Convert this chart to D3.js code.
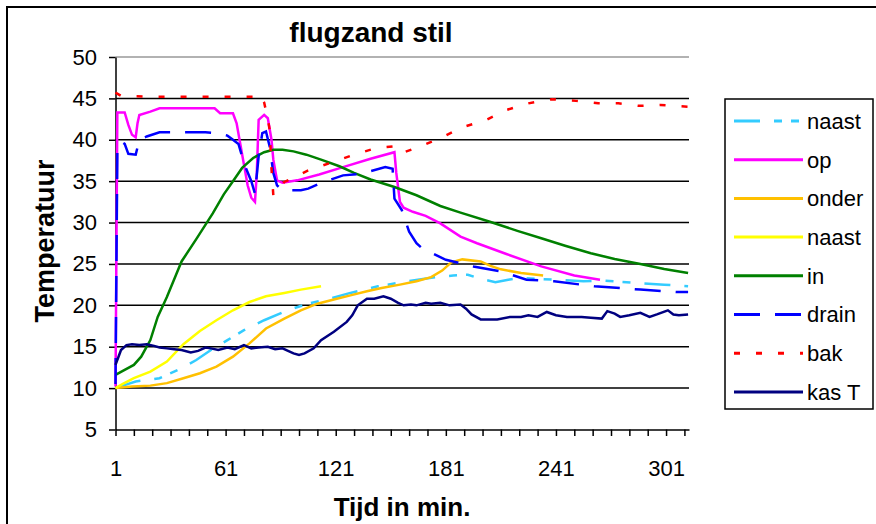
<!DOCTYPE html>
<html>
<head>
<meta charset="utf-8">
<script src="https://cdn.jsdelivr.net/npm/d3@7"></script>
<style>
	body { margin: 0; background: #fff; }
	text { font-family: "Liberation Sans", Arial, sans-serif; }
</style>
</head>
<body>
<div id="chart"></div>
<script>
// readings: [minute, temperature]
const naastCyan = [[1,10.0],[5,10.3],[12,10.8],[25,11.2],[37,12.4],[45,13.4],[53,14.6],[62,15.8],[71,17.0],[82,18.2],[96,19.5],[106,20.2],[116,20.7],[129,21.5],[144,22.3],[160,22.9],[175,23.4],[185,23.6],[193,23.7],[200,23.2],[208,22.8],[215,23.1],[222,23.3],[240,23.1],[256,22.9],[267,23.0],[285,22.7],[300,22.5],[313,22.3]];
const op = [[1,10.2],[2,43.3],[6,43.3],[8,41.8],[10,40.6],[12,40.3],[13,42.0],[14,43.0],[20,43.4],[25,43.8],[55,43.8],[58,43.2],[65,43.2],[67,42.0],[69,39.5],[71,37.0],[73,34.5],[75,33.0],[77,32.5],[78,36.0],[79,42.4],[82,43.0],[84,42.6],[86,40.0],[87,37.6],[89,35.1],[92,34.8],[100,35.1],[112,35.8],[125,36.7],[140,37.7],[153,38.5],[154,36.0],[156,32.5],[158,31.8],[163,31.3],[170,30.8],[178,29.9],[189,28.3],[198,27.5],[214,26.2],[233,24.7],[251,23.6],[265,23.1]];
const onder = [[1,10.0],[10,10.2],[20,10.3],[29,10.6],[38,11.2],[47,11.8],[56,12.6],[65,13.8],[74,15.4],[83,17.2],[93,18.4],[102,19.4],[111,20.2],[120,20.7],[129,21.2],[138,21.7],[146,22.1],[156,22.5],[165,22.9],[173,23.4],[179,24.2],[184,25.2],[190,25.55],[200,25.3],[205,24.8],[211,24.35],[222,23.9],[234,23.6]];
const naastGeel = [[1,10.0],[5,10.5],[11,11.2],[20,12.0],[29,13.2],[38,15.3],[47,16.9],[56,18.2],[65,19.4],[74,20.4],[83,21.1],[93,21.5],[102,21.9],[113,22.3]];
const inn = [[1,11.6],[6,12.2],[11,12.8],[15,13.8],[20,15.8],[24,18.6],[29,21.0],[34,23.7],[37,25.3],[45,28.0],[54,31.1],[60,33.4],[65,35.0],[70,36.6],[76,37.8],[82,38.5],[87,38.8],[92,38.8],[98,38.6],[105,38.2],[113,37.6],[123,36.8],[131,36.0],[140,35.2],[153,34.3],[165,33.3],[178,32.0],[189,31.2],[205,30.1],[220,29.0],[233,28.1],[246,27.2],[260,26.3],[273,25.6],[287,25.0],[300,24.4],[313,23.9]];
const drain = [[1,10.5],[2,38.5],[4,39.8],[6,39.5],[8,38.3],[12,38.2],[14,40.0],[18,40.4],[25,40.9],[50,40.9],[56,40.8],[62,40.5],[65,40.0],[68,39.5],[70,38.0],[72,36.6],[75,35.0],[77,33.5],[79,38.0],[81,40.8],[83,41.0],[85,39.2],[87,36.0],[89,34.5],[92,33.9],[102,33.9],[106,34.1],[113,34.8],[125,35.7],[135,35.9],[148,36.7],[152,36.5],[153,32.9],[157,31.5],[161,28.9],[165,27.5],[168,26.9],[181,25.5],[196,24.7],[211,24.1],[225,23.1],[240,22.9],[262,22.3],[287,21.9],[307,21.6],[313,21.6]];
const bak = [[1,45.7],[4,45.3],[20,45.2],[77,45.2],[79,45.5],[82,44.5],[84,42.5],[85,41.2],[86,36.5],[87,33.3],[89,34.0],[93,34.9],[106,36.3],[118,37.2],[131,38.2],[143,39.0],[153,39.2],[157,38.4],[167,39.2],[178,40.2],[190,41.5],[203,42.4],[214,43.6],[226,44.4],[239,44.9],[252,44.7],[264,44.4],[275,44.4],[286,44.1],[298,44.2],[313,44.0]];
const kasT = [[1,12.8],[3,14.0],[4,14.6],[7,15.2],[10,15.3],[14,15.2],[18,15.3],[22,15.1],[25,14.9],[29,14.8],[33,14.7],[37,14.6],[42,14.3],[46,14.5],[50,14.9],[53,14.8],[57,14.6],[62,14.9],[66,14.7],[71,15.2],[75,14.8],[79,14.9],[84,15.0],[88,14.7],[92,14.8],[95,14.5],[98,14.2],[101,14.0],[104,14.2],[109,14.8],[113,15.8],[120,16.8],[127,18.0],[130,18.8],[133,20.0],[138,20.8],[142,20.8],[147,21.1],[151,20.8],[155,20.3],[158,20.0],[162,20.1],[165,20.0],[170,20.3],[173,20.2],[178,20.3],[183,20.0],[189,20.1],[192,19.6],[195,18.9],[200,18.3],[209,18.3],[216,18.6],[222,18.6],[226,18.8],[231,18.6],[236,19.2],[241,18.8],[247,18.6],[255,18.6],[260,18.5],[266,18.4],[269,19.3],[273,19.0],[276,18.6],[281,18.8],[287,19.1],[292,18.6],[296,18.9],[302,19.4],[305,18.9],[308,18.8],[313,18.9]];

const seriesNames = ['naast', 'op', 'onder', 'naast', 'in', 'drain', 'bak', 'kas T'];
const seriesData = [naastCyan, op, onder, naastGeel, inn, drain, bak, kasT];

const yTicks = [5, 10, 15, 20, 25, 30, 35, 40, 45, 50];
const xTicks = d3.range(1, 312, 10);
const xLabels = [1, 61, 121, 181, 241, 301];

const titleText = 'flugzand stil';
const xTitle = 'Tijd in min.';
const yTitle = 'Temperatuur';

const lineStyles = [
	{ color: '#33ccff', dash: '26,14,8,9,8,14' },
	{ color: '#ff00ff', dash: null },
	{ color: '#ffc000', dash: null },
	{ color: '#ffff00', dash: null },
	{ color: '#008000', dash: null },
	{ color: '#0000ff', dash: '26,15' },
	{ color: '#ff0000', dash: '6,16' },
	{ color: '#000080', dash: null }
];

const width = 876, height = 524;
const plot = { left: 115.5, right: 689, top: 57, bottom: 429.5 };

const svg = d3.select('#chart').append('svg')
	.attr('width', width)
	.attr('height', height);

svg.append('rect')
	.attr('width', width).attr('height', height)
	.attr('fill', '#fff');

// chart border (only top and left edges are inside the picture)
svg.append('rect')
	.attr('x', 7).attr('y', 7)
	.attr('width', 1000).attr('height', 1000)
	.attr('fill', 'none')
	.attr('stroke', '#000')
	.attr('stroke-width', 2);

const xScale = d3.scaleLinear().domain([1, 313.5]).range([plot.left, plot.right]);
const yScale = d3.scaleLinear().domain([5, 50]).range([plot.bottom, plot.top]);

// gridlines
svg.append('g').selectAll('line')
	.data(yTicks.filter(d => d > 5))
	.enter().append('line')
	.attr('x1', plot.left).attr('x2', plot.right)
	.attr('y1', d => yScale(d)).attr('y2', d => yScale(d))
	.attr('stroke', d => d === 50 ? '#999' : '#000')
	.attr('stroke-width', 1.5);

const yAxis = svg.append('g')
	.attr('transform', 'translate(' + plot.left + ',0)')
	.call(d3.axisLeft(yScale).tickValues(yTicks).tickSize(6.5).tickSizeOuter(0).tickPadding(12));

const xAxis = svg.append('g')
	.attr('transform', 'translate(0,' + plot.bottom + ')')
	.call(d3.axisBottom(xScale).tickValues(xTicks).tickSize(6.5).tickSizeOuter(0).tickPadding(24)
		.tickFormat(d => xLabels.includes(d) ? d : ''));

[xAxis, yAxis].forEach(ax => {
	ax.selectAll('path, line').attr('stroke', '#000').attr('stroke-width', 1.5);
	ax.selectAll('text')
		.attr('fill', '#000')
		.style('font-family', '"Liberation Sans", Arial, sans-serif')
		.style('font-size', '22px');
});

// series
const generateLine = d3.line()
	.x(d => xScale(d[0]))
	.y(d => yScale(d[1]));

svg.append('g').selectAll('path')
	.data(seriesData)
	.enter().append('path')
	.attr('fill', 'none')
	.attr('stroke', (d, i) => lineStyles[i].color)
	.attr('stroke-width', 2.5)
	.attr('stroke-dasharray', (d, i) => lineStyles[i].dash)
	.attr('d', generateLine);

// titles
svg.append('text')
	.attr('x', 371).attr('y', 42)
	.attr('text-anchor', 'middle')
	.style('font-size', '28px').style('font-weight', 'bold')
	.text(titleText);

svg.append('text')
	.attr('x', 402).attr('y', 516)
	.attr('text-anchor', 'middle')
	.style('font-size', '26px').style('font-weight', 'bold')
	.text(xTitle);

svg.append('text')
	.attr('transform', 'translate(54,241) rotate(-90)')
	.attr('text-anchor', 'middle')
	.style('font-size', '27px').style('font-weight', 'bold')
	.text(yTitle);

// legend
const legend = svg.append('g');
legend.append('rect')
	.attr('x', 725).attr('y', 99)
	.attr('width', 148).attr('height', 310)
	.attr('fill', '#fff')
	.attr('stroke', '#000')
	.attr('stroke-width', 1.5);

const item = legend.selectAll('.item')
	.data(seriesNames)
	.enter().append('g')
	.attr('class', 'item')
	.attr('transform', (d, i) => 'translate(0,' + (121 + i * 38.7) + ')');

item.append('line')
	.attr('x1', 734).attr('x2', 803)
	.attr('stroke', (d, i) => lineStyles[i].color)
	.attr('stroke-width', 3)
	.attr('stroke-dasharray', (d, i) => lineStyles[i].dash);

item.append('text')
	.attr('x', 807).attr('dy', '0.36em')
	.style('font-size', '22px')
	.text(d => d);
</script>
</body>
</html>
